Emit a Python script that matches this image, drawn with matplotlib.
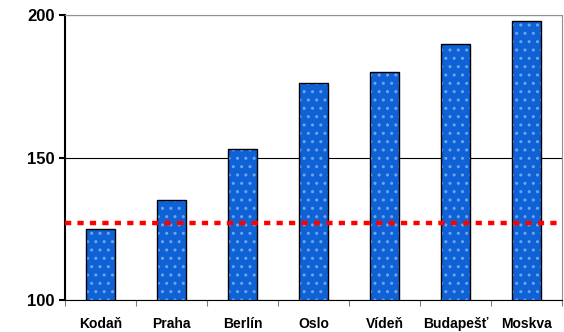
import matplotlib.pyplot as plt
import numpy as np

cities = ["Kodaň", "Praha", "Berlín", "Oslo", "Vídeň", "Budapešť", "Moskva"]
values = [125, 135, 153, 176, 180, 190, 198]
average = 127

plt.rcParams["font.family"] = ["Liberation Sans", "DejaVu Sans"]
plt.rcParams["hatch.linewidth"] = 1.0

fig = plt.figure(figsize=(5.64, 3.32), dpi=100)
ax = fig.add_axes([65 / 564, 32 / 332, 497 / 564, 285 / 332])

x = np.arange(len(cities))

# filled bars with light dot pattern, then black outline on top
ax.bar(x, values, width=0.41, color="#0f62d6", hatch="..",
       edgecolor="#6fa4ee", linewidth=0, zorder=2)
ax.bar(x, values, width=0.41, color="none", edgecolor="black",
       linewidth=1.0, zorder=3)

ax.axhline(average, color="#ff0000", linewidth=3.2, linestyle=(0, (1.4, 1.4)), zorder=4)

ax.set_ylim(100, 200)
ax.set_xlim(-0.5, len(cities) - 0.5)
ax.set_yticks([100, 150, 200])
ax.yaxis.grid(True, color="black", linewidth=0.8, zorder=0)
ax.set_axisbelow(True)

ax.set_xticks(np.arange(len(cities) + 1) - 0.5)
ax.set_xticklabels([])
ax.set_xticks(x, minor=True)
ax.set_xticklabels(cities, minor=True, fontweight="bold", fontsize=10)
ax.tick_params(axis="x", which="minor", length=0, pad=12)
ax.tick_params(axis="x", which="major", length=4, color="#808080", direction="out")
ax.tick_params(axis="y", length=4, direction="out", width=1.5)
for lbl in ax.get_yticklabels():
    lbl.set_fontweight("bold")
    lbl.set_fontsize(12)

ax.spines["left"].set_linewidth(1.5)
ax.spines["bottom"].set_color("black")
ax.spines["right"].set_color("#909090")
ax.spines["top"].set_color("#909090")

fig.savefig("out.png", dpi=100)
